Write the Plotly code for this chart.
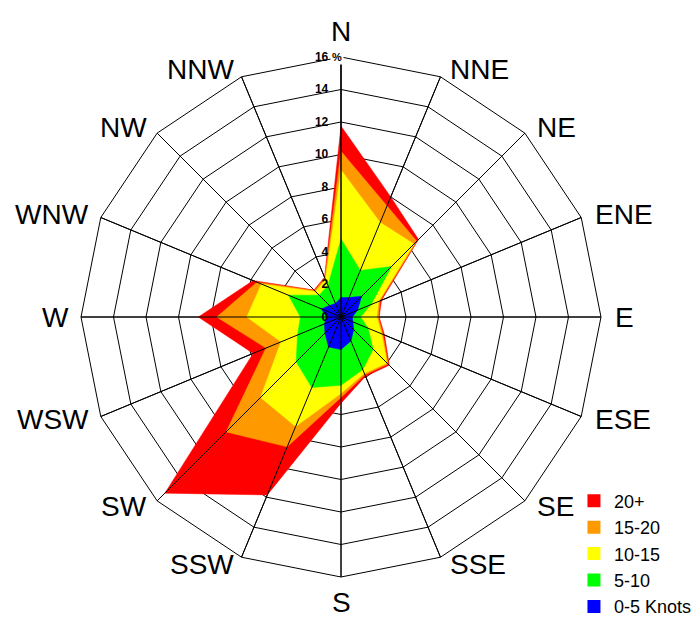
import plotly.graph_objects as go
import numpy as np

directions = ["N", "NNE", "NE", "ENE", "E", "ESE", "SE", "SSE",
              "S", "SSW", "SW", "WSW", "W", "WNW", "NW", "NNW"]

# frequency (%) of each speed band per direction
band_0_5 = [1.2, 1.3, 1.8, 1.1, 0.7, 0.8, 1.1, 1.6, 2.0, 2.0, 1.4, 1.1, 0.9, 1.3, 1.0, 0.9]
band_5_10 = [3.6, 1.8, 2.6, 0.9, 0.5, 1.0, 1.7, 1.9, 2.2, 2.7, 2.5, 1.8, 1.6, 2.2, 0.9, 1.2]
band_10_15 = [4.25, 3.2, 1.95, 0.5, 1.0, 0.9, 1.2, 0.25, 0.5, 2.6, 3.1, 1.1, 3.3, 1.8, 0.3, 0.4]
band_15_20 = [1.15, 1.1, 0.25, 0.1, 0.1, 0.1, 0.1, 0.1, 0.25, 1.35, 3.0, 1.0, 1.85, 0.3, 0.1, 0.1]
band_20p = [1.55, 0.6, 0.15, 0.1, 0.05, 0.1, 0.1, 0.1, 0.35, 3.2, 5.33, 0.85, 1.13, 0.25, 0.05, 0.05]

band_names = ["0-5 Knots", "5-10", "10-15", "15-20", "20+"]
band_colors = ["#0000FF", "#00FF00", "#FFFF00", "#FF9900", "#FF0000"]
bands = [band_0_5, band_5_10, band_10_15, band_15_20, band_20p]

radial_ticks = [0, 2, 4, 6, 8, 10, 12, 14, 16]

cum = np.cumsum(np.array(bands), axis=0)

fig = go.Figure()
theta_closed = directions + [directions[0]]
# draw outermost (cumulative) first
for i in reversed(range(len(bands))):
    r = list(cum[i]) + [cum[i][0]]
    fig.add_trace(go.Scatterpolar(
        r=r, theta=theta_closed, mode="lines", fill="toself",
        fillcolor=band_colors[i], line=dict(color=band_colors[i], width=0.5),
        showlegend=False, hoverinfo="skip"))

# spokes drawn above the fills
sr, st = [], []
for d in directions:
    sr += [0, radial_ticks[-1], None]
    st += [d, d, None]
fig.add_trace(go.Scatterpolar(r=sr, theta=st, mode="lines",
                              line=dict(color="black", width=1),
                              showlegend=False, hoverinfo="skip"))

# legend entries
for i in reversed(range(len(bands))):
    fig.add_trace(go.Scatterpolar(
        r=[None], theta=[directions[0]], mode="markers",
        marker=dict(symbol="square", size=13, color=band_colors[i]),
        name=band_names[i]))

# direction labels placed just outside the outer polygon
label_r = 0.5 * 268 / 260
annotations = []
for k, d in enumerate(directions):
    ang = np.deg2rad(k * 360 / len(directions))
    s, c = np.sin(ang), np.cos(ang)
    if abs(s) < 1e-6:
        xa, ya, xs = "center", ("bottom" if c > 0 else "top"), 0
    else:
        xa, ya, xs = ("left" if s > 0 else "right"), "middle", (4 if s > 0 else -2)
    annotations.append(dict(text=d, x=0.5 + label_r * s, y=0.5 + label_r * c,
                            xref="paper", yref="paper", showarrow=False,
                            xanchor=xa, yanchor=ya, xshift=xs,
                            font=dict(size=28, color="black")))
annotations.append(dict(text="<b>%</b>", x=(337 - 81) / 520, y=1.0, xref="paper", yref="paper",
                        showarrow=False, font=dict(size=11), bgcolor="white",
                        xanchor="center", yanchor="middle"))

fig.update_layout(
    width=699, height=619,
    margin=dict(l=73, r=106, t=49, b=50, autoexpand=False),
    paper_bgcolor="white",
    font=dict(family="Liberation Sans, Arial, sans-serif", color="black"),
    polar=dict(
        domain=dict(x=[0, 1], y=[0, 1]),
        bgcolor="white",
        gridshape="linear",
        radialaxis=dict(range=[0, 16], tickvals=radial_ticks, angle=90, tickangle=90,
                        side="counterclockwise",
                        showline=True, linecolor="black", linewidth=1,
                        gridcolor="black", gridwidth=1,
                        ticks="outside", ticklen=8, tickcolor="rgba(0,0,0,0)",
                        tickfont=dict(size=12, weight="bold", color="black")),
        angularaxis=dict(rotation=90, direction="clockwise", type="category",
                         categoryarray=directions, showline=True, linecolor="black",
                         linewidth=1, gridcolor="black", ticks="",
                         showticklabels=False),
    ),
    legend=dict(x=0.948, y=0.1815, xanchor="left", yanchor="top",
                font=dict(size=18), itemwidth=30, tracegroupgap=0,
                bgcolor="rgba(0,0,0,0)"),
    annotations=annotations,
)

fig.write_html("out.html")
